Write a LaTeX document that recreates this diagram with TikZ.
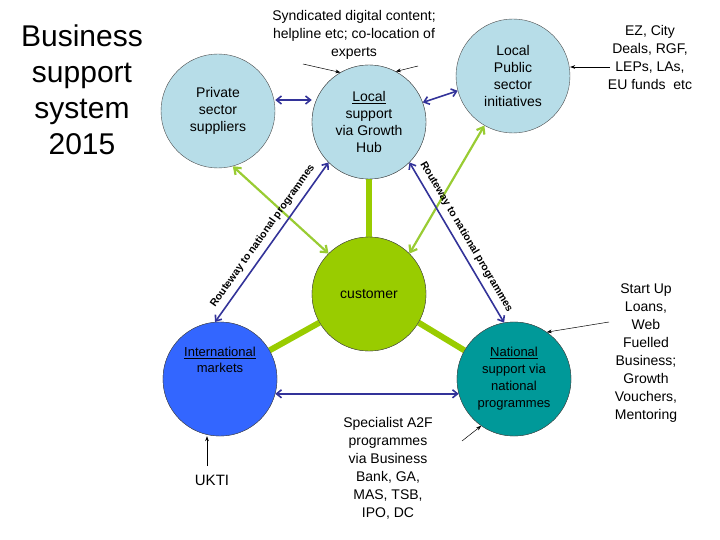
\documentclass[tikz,border=0pt]{standalone}
\usepackage{fontspec}
\setmainfont{Liberation Sans}
\usetikzlibrary{arrows.meta}
\definecolor{lb}{HTML}{B7DDE8}
\definecolor{cg}{HTML}{99CC00}
\definecolor{ib}{HTML}{3366FF}
\definecolor{nt}{HTML}{009999}
\definecolor{ab}{HTML}{333399}
\definecolor{ag}{HTML}{99CC33}
\begin{document}
\begin{tikzpicture}[x=1pt,y=-1pt,
 circ/.style={circle,draw=black!70,minimum size=114pt,inner sep=0pt,align=center,font=\fontsize{14}{17}\selectfont},
 barr/.style={draw=ab,line width=1.6pt,{Straight Barb[length=5pt,width=8pt]}-{Straight Barb[length=5pt,width=8pt]}},
 garr/.style={draw=ag,line width=2.2pt,{Straight Barb[length=6pt,width=9pt]}-{Straight Barb[length=6pt,width=9pt]}},
 thick/.style={draw=cg,line width=6pt},
 note/.style={align=center,font=\fontsize{14}{18}\selectfont},
 pt/.style={-{Stealth[length=5pt]},line width=0.5pt},
 rl/.style={font=\bfseries\fontsize{10.5}{12}\selectfont,sloped}]
\useasboundingbox (0,0) rectangle (720,540);
\node[circ,fill=lb] (priv) at (218,111) {Private\\sector\\suppliers};
\node[circ,fill=lb] (hub) at (369,122) {\underline{Local}\\support\\via Growth\\Hub};
\node[circ,fill=lb] (lpub) at (513,76) {Local\\Public\\sector\\initiatives};
\node[circ,fill=cg] (cust) at (369,294) {customer};
\node[circ,fill=ib,font=\fontsize{13}{16}\selectfont] (intl) at (220,379) {\underline{International}\\markets\\[22pt]};
\node[circ,fill=nt,font=\fontsize{13}{17}\selectfont] (nat) at (514,379) {\underline{National}\\support via\\national\\programmes};
\draw[thick] (hub.south) -- (cust.north);
\draw[thick] (cust.210) -- (intl.30);
\draw[thick] (cust.330) -- (nat.150);
% redraw circles on top of thick lines
\node[circ,fill=lb] at (hub) {\underline{Local}\\support\\via Growth\\Hub};
\node[circ,fill=cg] at (cust) {customer};
\node[circ,fill=ib,font=\fontsize{13}{16}\selectfont] at (intl) {\underline{International}\\markets\\[22pt]};
\node[circ,fill=nt,font=\fontsize{13}{17}\selectfont] at (nat) {\underline{National}\\support via\\national\\programmes};
% arrows
\draw[barr] (priv.east |- 0,100) -- (hub.west |- 0,100);
\draw[barr] (hub.20) -- (lpub.195);
\draw[garr] (priv.285) -- (cust.135);
\draw[garr] (lpub.240) -- (cust.45);
\draw[barr] (intl.95) -- node[rl,above=2pt]{Routeway to national programmes} (hub.225);
\draw[barr] (hub.315) -- node[rl,above=2pt]{Routeway to national programmes} (nat.100);
\draw[barr] (intl.-15) -- (nat.195);
% notes
\node[align=center,font=\fontsize{30}{36}\selectfont] (title) at (82,90) {Business\\support\\system\\2015};
\node[note] (synd) at (354,35) {Syndicated digital content;\\helpline etc; co-location of\\experts};
\coordinate (s1) at (303,64); \coordinate (s2) at (418,66);
\draw[pt] (s1) -- (hub.120);
\draw[pt] (s2) -- (hub.62);
\node[note] (ez) at (650,57) {EZ, City\\Deals, RGF,\\LEPs, LAs,\\EU funds\ \ etc};
\coordinate (e1) at (610,67);
\draw[pt] (e1) -- (lpub.east |- e1);
\node[note] (start) at (646,353) {Start Up\\Loans,\\Web\\Fuelled\\Business;\\Growth\\Vouchers,\\Mentoring};
\coordinate (st1) at (609,322);
\draw[pt] (st1) -- (nat.55);
\node[note] (spec) at (388,468) {Specialist A2F\\programmes\\via Business\\Bank, GA,\\MAS, TSB,\\IPO, DC};
\coordinate (sp1) at (462,441);
\draw[pt] (sp1) -- (nat.235);
\node[note,font=\fontsize{15}{18}\selectfont] (ukti) at (212,480) {UKTI};
\coordinate (u1) at (207,466);
\draw[pt] (u1) -- (intl.south -| u1);
\end{tikzpicture}
\end{document}
